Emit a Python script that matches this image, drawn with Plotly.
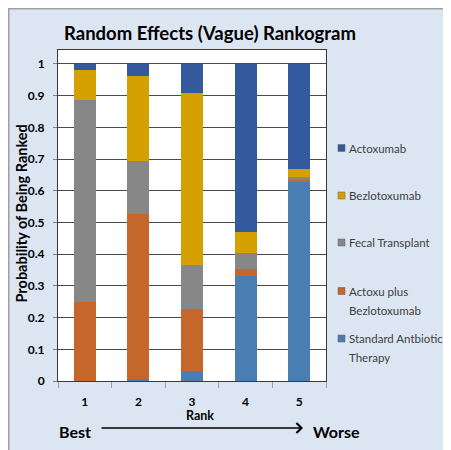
import plotly.graph_objects as go

ranks = ["1", "2", "3", "4", "5"]
series_names = ["Standard Antbiotic Therapy", "Actoxu plus Bezlotoxumab", "Fecal Transplant", "Bezlotoxumab", "Actoxumab"]
standard = [0.0, 0.005, 0.032, 0.330, 0.629]
actoxu_plus = [0.250, 0.521, 0.194, 0.024, 0.005]
fecal = [0.635, 0.168, 0.141, 0.049, 0.010]
bezlo = [0.097, 0.267, 0.542, 0.068, 0.025]
actox = [0.018, 0.039, 0.091, 0.529, 0.331]
y_ticks = [0, 0.1, 0.2, 0.3, 0.4, 0.5, 0.6, 0.7, 0.8, 0.9, 1]
y_tick_labels = ["0", "0.1", "0.2", "0.3", "0.4", "0.5", "0.6", "0.7", "0.8", "0.9", "1"]

colors = ["#4a7db2", "#c5662b", "#878787", "#d5a100", "#335a9f"]
values = [standard, actoxu_plus, fecal, bezlo, actox]

OFF = 8  # page body margin
W, H = 451 - OFF, 450 - OFF
L, R, T, B = 58 - OFF, 326 - OFF, 50 - OFF, 381 - OFF


def px(sx):
    return (sx - OFF - L) / (R - L)


def py(sy):
    return (B - (sy - OFF)) / (B - T)


FONT = "Lato"

fig = go.Figure()
for name, vals, col in zip(series_names, values, colors):
    fig.add_trace(go.Bar(x=ranks, y=vals, name=name, marker=dict(color=col, line=dict(width=0)),
                         width=0.41, showlegend=False))

fig.update_layout(
    barmode="stack",
    width=W, height=H,
    margin=dict(l=L, r=W - R, t=T, b=H - B, pad=0),
    paper_bgcolor="#dce6f2",
    plot_bgcolor="white",
    font=dict(family=FONT, color="black"),
)
fig.update_xaxes(type="category", showgrid=False, showline=True, linecolor="#3a3a3a", linewidth=1,
                 mirror=True, ticks="outside", tickson="boundaries", ticklen=6, tickcolor="#a0a0a0",
                 tickfont=dict(family=FONT, size=12, color="black", weight="bold"), ticklabelstandoff=10)
fig.update_yaxes(range=[0, 1.044], tickvals=y_ticks, ticktext=y_tick_labels, showgrid=True,
                 gridcolor="#4a4a4a", gridwidth=1, showline=True, linecolor="#3a3a3a", linewidth=1,
                 mirror=True, ticks="outside", ticklen=4, tickcolor="#808080",
                 tickfont=dict(family=FONT, size=12, color="black", weight="bold"), ticklabelstandoff=6,
                 zeroline=False)

ann = []
shapes = []
ann.append(dict(text="<b>Random Effects (Vague) Rankogram</b>", x=px(210), y=py(33), xref="paper", yref="paper",
                showarrow=False, xanchor="center", yanchor="middle", font=dict(size=18.5, family=FONT, color="black")))
ann.append(dict(text="<b>Probability of Being Ranked</b>", x=px(20.5), y=py(214), xref="paper", yref="paper",
                showarrow=False, textangle=-90, xanchor="center", yanchor="middle",
                font=dict(size=14.5, family=FONT, color="black")))
ann.append(dict(text="<b>Rank</b>", x=px(200), y=py(416), xref="paper", yref="paper", showarrow=False,
                xanchor="center", yanchor="middle", font=dict(size=12.5, family=FONT, color="black")))
ann.append(dict(text="<b>Best</b>", x=px(75), y=py(431), xref="paper", yref="paper", showarrow=False,
                xanchor="center", yanchor="middle", font=dict(size=16, family=FONT, color="black")))
ann.append(dict(text="<b>Worse</b>", x=px(336.5), y=py(431), xref="paper", yref="paper", showarrow=False,
                xanchor="center", yanchor="middle", font=dict(size=16, family=FONT, color="black")))
ann.append(dict(text="", x=px(303), y=py(428), xref="paper", yref="paper", showarrow=True,
                ax=-203, ay=0, arrowhead=4, arrowsize=1.2, arrowwidth=1.6, arrowcolor="black"))

legend_items = [
    ("Actoxumab", None, 148, colors[4]),
    ("Bezlotoxumab", None, 195.5, colors[3]),
    ("Fecal Transplant", None, 242.5, colors[2]),
    ("Actoxu plus", "Bezlotoxumab", 291, colors[1]),
    ("Standard Antbiotic", "Therapy", 338.5, colors[0]),
]
for l1, l2, yc, col in legend_items:
    shapes.append(dict(type="rect", xref="paper", yref="paper", x0=px(338), x1=px(345), y0=py(yc + 3.5),
                       y1=py(yc - 3.5), fillcolor=col, line=dict(width=0.5, color="#606060")))
    ann.append(dict(text=l1, x=px(347), y=py(yc), xref="paper", yref="paper", showarrow=False,
                    xanchor="left", yanchor="middle", font=dict(size=11.5, family=FONT, color="#404040")))
    if l2:
        ann.append(dict(text=l2, x=px(347), y=py(yc + 19), xref="paper", yref="paper", showarrow=False,
                        xanchor="left", yanchor="middle", font=dict(size=11.5, family=FONT, color="#404040")))

shapes.append(dict(type="line", xref="paper", yref="paper", x0=px(8.75), x1=px(8.75), y0=py(460), y1=py(8),
                   line=dict(width=1.5, color="#a0a0a0")))
shapes.append(dict(type="line", xref="paper", yref="paper", x0=px(8), x1=px(460), y0=py(8.75), y1=py(8.75),
                   line=dict(width=1.5, color="#a0a0a0")))

fig.update_layout(annotations=ann, shapes=shapes)
fig.write_html("out.html", post_script="document.documentElement.style.overflow='hidden';document.body.style.overflow='hidden';")
